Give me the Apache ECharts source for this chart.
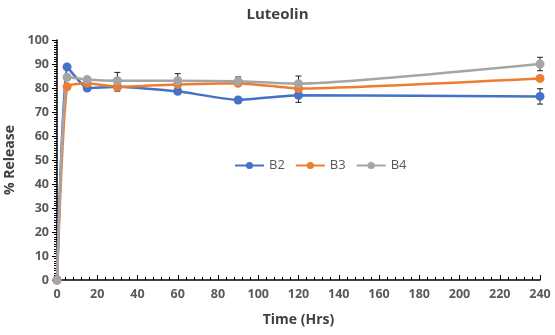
<!DOCTYPE html>
<html>
<head>
<meta charset="utf-8">
<script src="https://cdn.jsdelivr.net/npm/echarts@6/dist/echarts.min.js"></script>
<style>
  html, body { margin: 0; padding: 0; background: #fff; }
  #chart { width: 555px; height: 335px; }
</style>
</head>
<body>
<div id="chart"></div>
<script>
// time points (hrs)
var hours = [0, 5, 15, 30, 60, 90, 120, 240]
// % release per batch
var b2 = [0, 88.8, 80, 80.5, 78.6, 75, 77, 76.5]
var b3 = [0, 80.5, 82, 80.5, 81.5, 82, 79.8, 84]
var b4 = [0, 84.5, 83.5, 83, 83, 82.8, 81.8, 90]
// error bars (+/-)
var b2Err = [0, 0.8, 0.8, 1, 0.8, 0.8, 3, 3.2]
var b3Err = [0, 0.8, 0.8, 1.8, 1, 1, 1, 1]
var b4Err = [0, 0.8, 0.8, 3.5, 3, 1.8, 3.2, 2.8]

var colors = ['#4472C4', '#ED7D31', '#A5A5A5']

function pairs(vals) {
  return hours.map(function (h, i) { return [h, vals[i]] })
}

function errSeries(vals, errs) {
  return {
    type: 'custom',
    silent: true,
    z: 1,
    data: hours.map(function (h, i) { return [h, vals[i] - errs[i], vals[i] + errs[i]] }),
    renderItem: function (params, api) {
      var x = api.value(0)
      var lo = api.coord([x, api.value(1)])
      var hi = api.coord([x, api.value(2)])
      var w = 3
      var st = { stroke: '#222', lineWidth: 1 }
      return {
        type: 'group',
        children: [
          { type: 'line', shape: { x1: lo[0], y1: lo[1], x2: hi[0], y2: hi[1] }, style: st },
          { type: 'line', shape: { x1: lo[0] - w, y1: lo[1], x2: lo[0] + w, y2: lo[1] }, style: st },
          { type: 'line', shape: { x1: hi[0] - w, y1: hi[1], x2: hi[0] + w, y2: hi[1] }, style: st }
        ]
      }
    }
  }
}

function lineSeries(name, vals, color) {
  return {
    name: name,
    type: 'line',
    smooth: 0.15,
    symbol: 'circle',
    symbolSize: 9,
    z: 3,
    lineStyle: { width: 2.5, color: color },
    itemStyle: { color: color },
    data: pairs(vals)
  }
}

var chart = echarts.init(document.getElementById('chart'))
var font = 'Open Sans, sans-serif'
var tickFont = { color: '#595959', fontWeight: 'bold', fontSize: 12.5, fontFamily: font }
chart.setOption({
  animation: false,
  color: colors,
  title: {
    text: 'Luteolin',
    left: 'center',
    top: 2,
    textStyle: { fontSize: 15, fontWeight: 'bold', color: '#404040', fontFamily: font }
  },
  legend: {
    data: ['B2', 'B3', 'B4'],
    left: 229,
    top: 154,
    itemWidth: 29,
    itemHeight: 9,
    itemGap: 10,
    textStyle: { fontSize: 13, color: '#595959', fontFamily: font }
  },
  grid: {
    left: 57,
    right: 15,
    top: 40,
    bottom: 55,
    containLabel: false,
    outerBoundsMode: 'none'
  },
  xAxis: {
    type: 'value',
    min: 0,
    max: 240,
    interval: 20,
    name: 'Time (Hrs)',
    nameLocation: 'middle',
    nameGap: 33,
    nameTextStyle: { fontSize: 14, fontWeight: 'bold', color: '#404040', fontFamily: font },
    axisLine: { lineStyle: { color: '#000', width: 1.5 } },
    axisTick: { inside: true, length: 5, lineStyle: { color: '#000' } },
    minorTick: { show: true, splitNumber: 5, length: 3, lineStyle: { color: '#000' } },
    splitLine: { show: false },
    axisLabel: tickFont
  },
  yAxis: {
    type: 'value',
    min: 0,
    max: 100,
    interval: 10,
    name: '% Release',
    nameLocation: 'middle',
    nameGap: 38,
    nameTextStyle: { fontSize: 14, fontWeight: 'bold', color: '#404040', fontFamily: font },
    axisLine: { show: true, lineStyle: { color: '#000', width: 1.5 } },
    axisTick: { show: true, length: 5, lineStyle: { color: '#000' } },
    minorTick: { show: true, splitNumber: 10, length: 3, lineStyle: { color: '#000' } },
    splitLine: { show: false },
    axisLabel: tickFont
  },
  series: [
    errSeries(b2, b2Err),
    errSeries(b3, b3Err),
    errSeries(b4, b4Err),
    lineSeries('B2', b2, colors[0]),
    lineSeries('B3', b3, colors[1]),
    lineSeries('B4', b4, colors[2])
  ]
})
</script>
</body>
</html>
